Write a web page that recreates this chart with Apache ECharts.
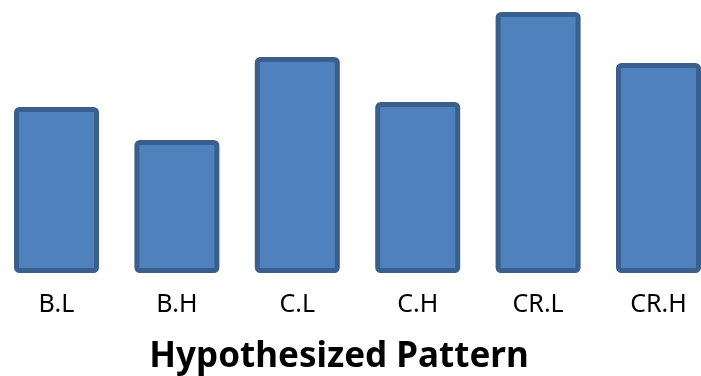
<!DOCTYPE html>
<html>
<head>
<meta charset="utf-8">
<script src="https://cdn.jsdelivr.net/npm/echarts@6/dist/echarts.min.js"></script>
<style>
  html, body { margin: 0; padding: 0; background: #fff; }
  #chart { width: 701px; height: 376px; }
</style>
</head>
<body>
<div id="chart"></div>
<script>
// 数据
var categories = ['B.L', 'B.H', 'C.L', 'C.H', 'CR.L', 'CR.H'];
var values = [166, 133, 216, 171, 261, 210];
var titleText = 'Hypothesized Pattern';

var myChart = echarts.init(document.getElementById('chart'));
myChart.setOption({
    animation: false,
    title: {
        text: titleText,
        left: 334,
        textAlign: 'center',
        top: 335,
        textStyle: {
            fontFamily: 'Noto Sans',
            fontWeight: 'bold',
            fontSize: 35,
            color: '#000'
        }
    },
    grid: {
        left: -3.7,
        top: 0,
        width: 722.4,
        height: 273,
        containLabel: false,
        outerBoundsMode: 'none'
    },
    xAxis: {
        type: 'category',
        data: categories,
        axisLine: { show: false },
        axisTick: { show: false },
        axisLabel: {
            margin: 19,
            fontFamily: 'Noto Sans',
            fontSize: 25,
            color: '#000'
        }
    },
    yAxis: {
        type: 'value',
        min: 0,
        max: 273,
        show: false,
        splitLine: { show: false }
    },
    series: [{
        type: 'bar',
        data: values,
        barWidth: 85,
        itemStyle: {
            color: '#4f81bd',
            borderColor: '#3a5f8c',
            borderWidth: 5,
            borderRadius: 3
        }
    }]
});
</script>
</body>
</html>
